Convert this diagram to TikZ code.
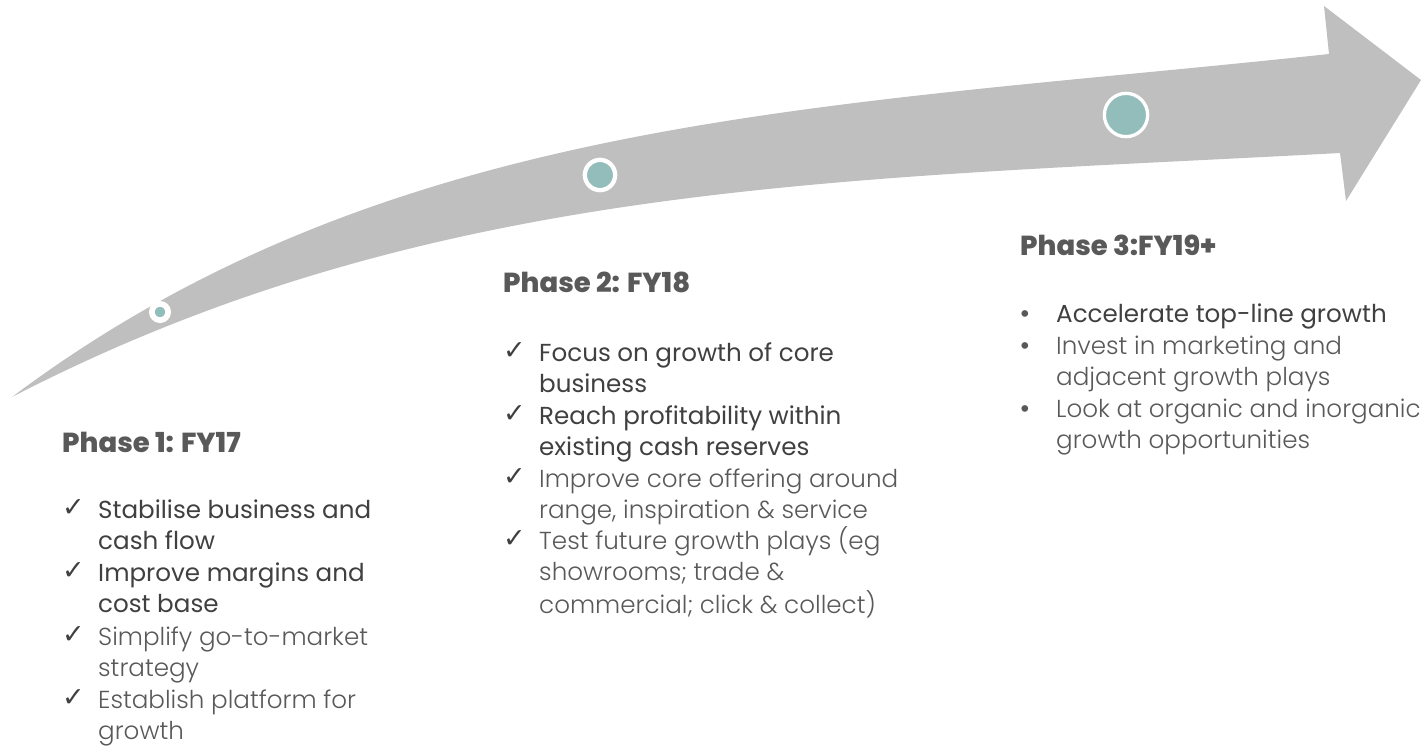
\documentclass[tikz,border=0pt]{standalone}
\usepackage{fontspec}
\setmainfont{Poppins}
\newfontfamily\lightfont{Poppins Light}
\newfontfamily\headfont{Poppins ExtraBold}
\newfontfamily\symfont{DejaVu Sans}
\definecolor{arrowgray}{HTML}{BFBFBF}
\definecolor{dotteal}{HTML}{93BDBA}
\definecolor{headgray}{HTML}{595959}
\definecolor{textdark}{HTML}{404040}
\definecolor{textsoft}{HTML}{595959}
% a block of lines whose base is the first line's baseline
\newcommand{\itemlines}[1]{\begin{tabular}[t]{@{}l@{}}#1\end{tabular}}
\tikzset{
  heading/.style={anchor=base west, inner sep=0pt, text=headgray,
    font=\headfont\fontsize{27.5}{32}\selectfont},
  strongitem/.style={anchor=base west, inner sep=0pt, text=textdark,
    font=\fontsize{24.6}{31.6}\selectfont},
  softitem/.style={anchor=base west, inner sep=0pt, text=textsoft,
    font=\lightfont\fontsize{24.6}{31.6}\selectfont},
  tick/.style={anchor=base west, inner sep=0pt, text=textdark, yshift=2pt,
    font=\symfont\fontsize{27}{28}\selectfont},
  bulletmark/.style={anchor=base west, inner sep=0pt, text=textsoft,
    font=\symfont\fontsize{23}{24}\selectfont},
  milestone/.style={circle, inner sep=0pt, fill=dotteal, draw=white}
}
\begin{document}
\begin{tikzpicture}[x=1pt, y=-1pt]
\useasboundingbox (0,0) rectangle (1421,747);

% curved growth arrow
\fill[arrowgray]
  (12,397) .. controls (392,112) and (829,108) .. (1329,54)
  -- (1324,6) -- (1421,80) -- (1346,201) -- (1340,153)
  .. controls (840,180) and (432,180) .. (12,397)
  -- cycle;

% milestones on the arrow
\node[milestone, minimum size=16.3pt, line width=5.7pt] (m1) at (160,312) {};
\node[milestone, minimum size=30.3pt, line width=4.3pt] (m2) at (600,175) {};
\node[milestone, minimum size=43.3pt, line width=3.3pt] (m3) at (1126,115) {};

% Phase 1
\node[heading] (h1) at (62,452) {Phase 1: FY17};
\node[tick] (t1a) at (62,518) {✓};
\node[strongitem] (p1a) at (98,518) {\itemlines{Stabilise business and\\cash flow}};
\node[tick] (t1b) at (62,581) {✓};
\node[strongitem] (p1b) at (98,581) {\itemlines{Improve margins and\\cost base}};
\node[tick] (t1c) at (62,645) {✓};
\node[softitem] (p1c) at (98,645) {\itemlines{Simplify go-to-market\\strategy}};
\node[tick] (t1d) at (62,708) {✓};
\node[softitem] (p1d) at (98,708) {\itemlines{Establish platform for\\growth}};

% Phase 2
\node[heading] (h2) at (503,292) {Phase 2: FY18};
\node[tick] (t2a) at (503,361) {✓};
\node[strongitem] (p2a) at (539,361) {\itemlines{Focus on growth of core\\business}};
\node[tick] (t2b) at (503,424) {✓};
\node[strongitem] (p2b) at (539,424) {\itemlines{Reach profitability within\\existing cash reserves}};
\node[tick] (t2c) at (503,487) {✓};
\node[softitem] (p2c) at (539,487) {\itemlines{Improve core offering around\\range, inspiration \& service}};
\node[tick] (t2d) at (503,549) {✓};
\node[softitem] (p2d) at (539,549) {\itemlines{Test future growth plays (eg\\showrooms; trade \&\\commercial; click \& collect)}};

% Phase 3
\node[heading] (h3) at (1020,255) {Phase 3:FY19+};
\node[bulletmark] (b3a) at (1018,322) {•};
\node[strongitem] (p3a) at (1056,322) {Accelerate top-line growth};
\node[bulletmark] (b3b) at (1018,354) {•};
\node[softitem] (p3b) at (1056,354) {\itemlines{Invest in marketing and\\adjacent growth plays}};
\node[bulletmark] (b3c) at (1018,417) {•};
\node[softitem] (p3c) at (1056,417) {\itemlines{Look at organic and inorganic\\growth opportunities}};
\end{tikzpicture}
\end{document}
